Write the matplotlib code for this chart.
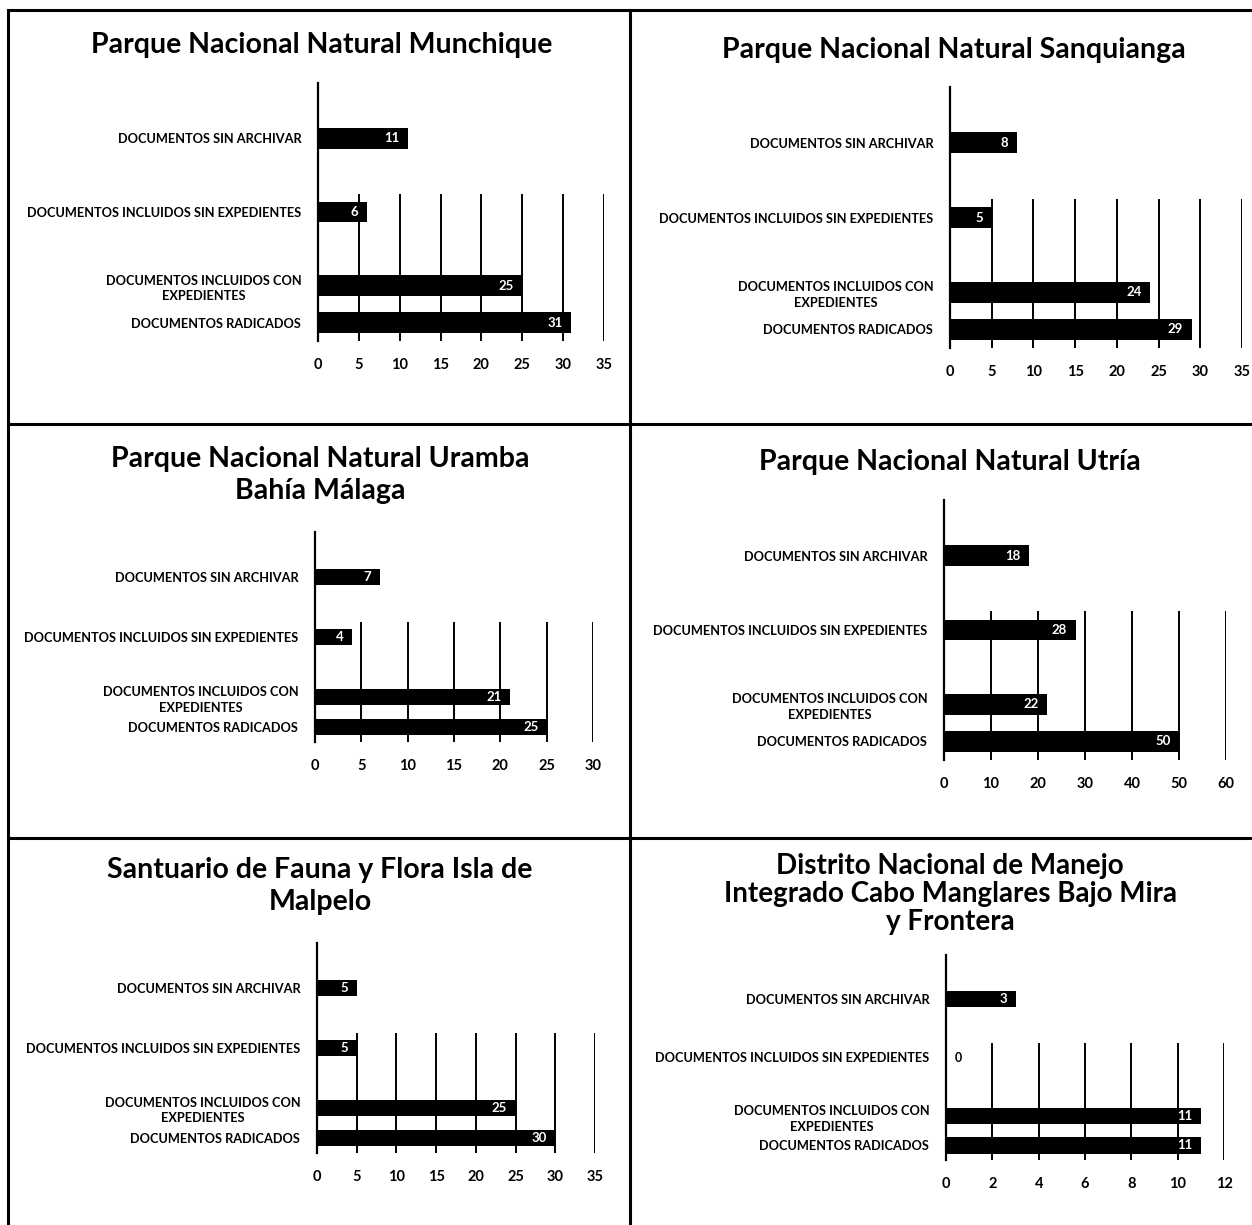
import matplotlib.pyplot as plt
from matplotlib.lines import Line2D

W, H = 1252, 1225

# categories, bottom to top as drawn
categories = [
    "DOCUMENTOS RADICADOS",
    "DOCUMENTOS INCLUIDOS CON\nEXPEDIENTES",
    "DOCUMENTOS INCLUIDOS SIN EXPEDIENTES",
    "DOCUMENTOS SIN ARCHIVAR",
]

titles = [
    "Parque Nacional Natural Munchique",
    "Parque Nacional Natural Sanquianga",
    "Parque Nacional Natural Uramba\nBahía Málaga",
    "Parque Nacional Natural Utría",
    "Santuario de Fauna y Flora Isla de\nMalpelo",
    "Distrito Nacional de Manejo\nIntegrado Cabo Manglares Bajo Mira\ny Frontera",
]

# values per chart, same order as categories
munchique = [31, 25, 6, 11]
sanquianga = [29, 24, 5, 8]
uramba = [25, 21, 4, 7]
utria = [50, 22, 28, 18]
malpelo = [30, 25, 5, 5]
cabo_manglares = [11, 11, 0, 3]

all_values = [munchique, sanquianga, uramba, utria, malpelo, cabo_manglares]
x_max = [35, 35, 30, 60, 35, 12]
x_step = [5, 5, 5, 10, 5, 2]

# layout (pixels): axes left, x at x_max, top, bottom
boxes = [
    (318, 604, 83, 341),
    (950, 1242, 87, 348),
    (315, 593, 532, 742),
    (944, 1226, 500, 760),
    (317, 595, 943, 1153),
    (946, 1224, 955, 1160),
]
# title centre x, centre y, size, line spacing
title_pos = [(322, 45, 20.5, 1.27), (954, 50, 20.5, 1.27), (320, 475, 20.5, 1.27),
             (950, 462, 20.5, 1.27), (320, 886, 20.5, 1.27), (950, 894, 20, 1.08)]
ypos = [0, 1, 3, 5]

font = ["Lato", "DejaVu Sans"]

fig = plt.figure(figsize=(W / 100, H / 100), dpi=100)
fig.patch.set_facecolor("white")

for i, vals in enumerate(all_values):
    x0, x1, yt, yb = boxes[i]
    ax = fig.add_axes([x0 / W, 1 - yb / H, (x1 - x0) / W, (yb - yt) / H])
    ax.barh(ypos, vals, height=0.56, color="black", zorder=3)
    ax.set_xlim(0, x_max[i])
    ax.set_ylim(-0.5, 6.5)
    ticks = list(range(0, x_max[i] + 1, x_step[i]))
    ax.set_xticks(ticks)
    ax.vlines(ticks[1:], -0.5, 3.5, color="black", lw=1.4, zorder=1)
    ax.set_yticks(ypos)
    ax.set_yticklabels(categories, family=font, fontweight="bold", fontsize=9.2,
                       multialignment="center", linespacing=1.35)
    ax.tick_params(axis="y", length=0, pad=12)
    ax.tick_params(axis="x", length=0, pad=12)
    for lab in ax.get_xticklabels():
        lab.set_family(font)
        lab.set_fontweight("bold")
        lab.set_fontsize(10.5)
    for s in ["top", "right", "bottom"]:
        ax.spines[s].set_visible(False)
    ax.spines["left"].set_linewidth(1.6)
    ax.spines["left"].set_zorder(4)
    for y, v in zip(ypos, vals):
        if v == 0:
            ax.text(x_max[i] * 0.03, y, str(v), ha="left", va="center", color="black",
                    fontsize=9, fontweight="bold", family=font)
        else:
            ax.text(v - x_max[i] * 0.03, y, str(v), ha="right", va="center", color="white",
                    fontsize=9.5, fontweight="bold", family=font, zorder=5)

    tx, ty, fs, ls = title_pos[i]
    fig.text(tx / W, 1 - ty / H, titles[i], ha="center", va="center", fontsize=fs,
             fontweight="bold", family=font, linespacing=ls)

# panel borders
def hline(y, xa, xb):
    fig.add_artist(Line2D([xa / W, xb / W], [1 - y / H, 1 - y / H], color="black", lw=2.2))

def vline(x, ya, yb):
    fig.add_artist(Line2D([x / W, x / W], [1 - ya / H, 1 - yb / H], color="black", lw=2.2))

hline(10, 8, W)
hline(424, 8, W)
hline(838, 8, W)
vline(8, 10, H)
vline(630, 10, H)

fig.savefig("out.png", dpi=100, facecolor="white")
